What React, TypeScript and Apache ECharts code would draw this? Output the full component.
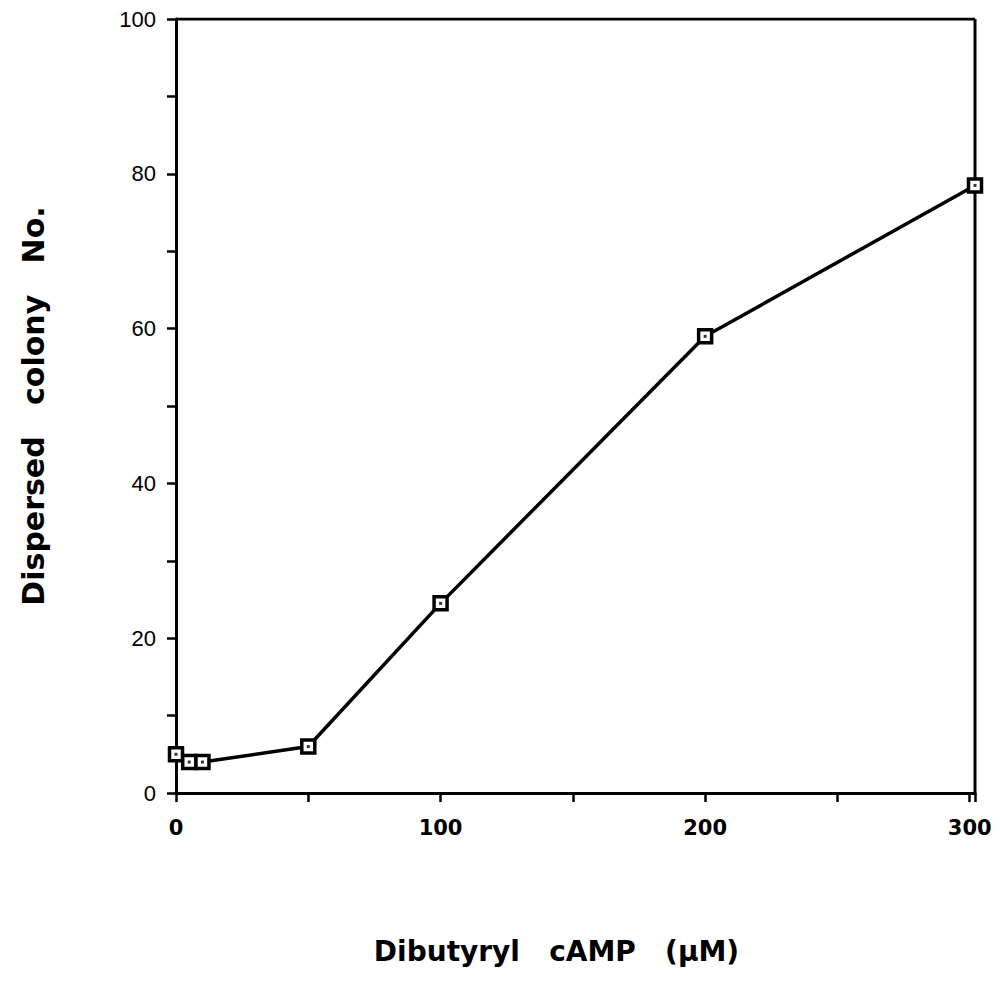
import React, { useEffect, useRef } from "react";
import * as echarts from "echarts";

const concentrations = [0, 5, 10, 50, 100, 200, 302];
const colonies = [5, 4, 4, 6, 24.5, 59, 78.5];
const xTickLabels = [0, 100, 200, 300];
const yTickLabels = [0, 20, 40, 60, 80, 100];
const xTitle = "Dibutyryl   cAMP   (\u00b5M)";
const yTitle = "Dispersed   colony   No.";

export default function App() {
  const ref = useRef<HTMLDivElement>(null);
  useEffect(() => {
    if (!ref.current) return;
    const chart = echarts.init(ref.current, null, { renderer: "svg" });
    const pts = concentrations.map((c, i) => [c, colonies[i]]);
    const font = "'Liberation Sans', Arial, Helvetica, sans-serif";
    const wide = "'DejaVu Sans', Verdana, sans-serif";
    chart.setOption({
      animation: false,
      backgroundColor: "#fff",
      grid: { left: 176, right: 25, top: 19, bottom: 202, show: false },
      xAxis: {
        type: "value",
        min: 0,
        max: 302,
        interval: 50,
        name: xTitle,
        nameLocation: "middle",
        nameGap: 144,
        nameTextStyle: {
          fontFamily: wide,
          fontWeight: "bold",
          fontSize: 28,
          color: "#000",
          padding: [0, 38, 0, 0],
        },
        axisLine: { show: true, onZero: false, lineStyle: { color: "#000", width: 3 } },
        axisTick: { show: true, inside: false, length: 9, lineStyle: { color: "#000", width: 2.5 } },
        axisLabel: {
          margin: 24,
          fontFamily: wide,
          fontWeight: "bold",
          fontSize: 21,
          color: "#000",
          formatter: (v: number) => (xTickLabels.includes(v) ? String(v) : ""),
          showMaxLabel: true,
        },
        splitLine: { show: false },
      },
      yAxis: {
        type: "value",
        min: 0,
        max: 100,
        interval: 10,
        name: yTitle,
        nameLocation: "middle",
        nameGap: 128,
        nameTextStyle: { fontFamily: wide, fontWeight: "bold", fontSize: 30, color: "#000" },
        axisLine: { show: true, lineStyle: { color: "#000", width: 3 } },
        axisTick: { show: true, inside: false, length: 9, lineStyle: { color: "#000", width: 2.5 } },
        axisLabel: {
          margin: 20,
          fontFamily: font,
          fontWeight: 500,
          fontSize: 22,
          color: "#000",
          formatter: (v: number) => (yTickLabels.includes(v) ? String(v) : ""),
        },
        splitLine: { show: false },
      },
      series: [
        {
          type: "line",
          data: pts,
          lineStyle: { color: "#000", width: 3.5 },
          symbol: "rect",
          symbolSize: 13,
          itemStyle: { color: "#fff", borderColor: "#000", borderWidth: 3.5 },
          z: 3,
        },
        {
          type: "scatter",
          data: pts,
          symbol: "rect",
          symbolSize: 3,
          itemStyle: { color: "#000" },
          z: 4,
        },
        {
          type: "line",
          data: [[302, 0], [302, 100]],
          symbol: "none",
          lineStyle: { color: "#000", width: 3 },
          silent: true,
          z: 2,
        },
        {
          type: "line",
          data: [[0, 100], [302, 100]],
          symbol: "none",
          lineStyle: { color: "#000", width: 3 },
          silent: true,
          z: 2,
        },
      ],
    });
    return () => chart.dispose();
  }, []);
  return (
    <div
      ref={ref}
      style={{ position: "fixed", left: 0, top: 0, width: 1000, height: 995, background: "#fff" }}
    />
  );
}
